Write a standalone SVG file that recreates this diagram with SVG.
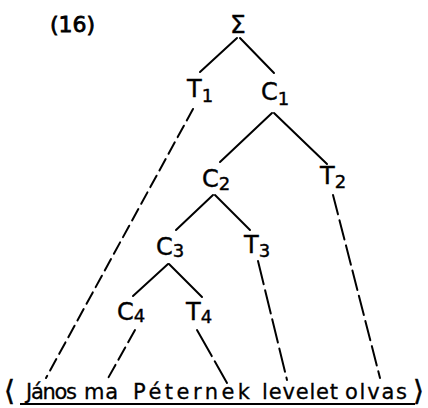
<svg xmlns="http://www.w3.org/2000/svg" width="428" height="408" viewBox="0 0 428 408">
<style>
text{font-family:"DejaVu Sans","Liberation Sans",sans-serif;fill:#000}
.lab{font-size:24px;stroke:#000;stroke-width:0.4}
.w{font-size:21px;stroke:#000;stroke-width:0.3}
.br{font-size:28px;stroke:#000;stroke-width:0.5}
.e{stroke:#000;stroke-width:2;fill:none;stroke-linecap:round}
</style>
<rect width="428" height="408" fill="#fff"/>
<text x="50" y="32" font-size="22" stroke="#000" stroke-width="0.8">(16)</text>
<g id="sigma"><text x="238" y="33" font-size="25" stroke="#000" stroke-width="0.4" text-anchor="middle">Σ</text></g>
<g id="T1"><text class="lab" x="187" y="97">T<tspan font-size="18" dy="5">1</tspan></text></g>
<g id="C1"><text class="lab" x="261" y="100">C<tspan font-size="18" dy="5">1</tspan></text></g>
<g id="C2"><text class="lab" x="202" y="187">C<tspan font-size="18" dy="3">2</tspan></text></g>
<g id="T2"><text class="lab" x="320" y="184">T<tspan font-size="18" dy="4">2</tspan></text></g>
<g id="C3"><text class="lab" x="156" y="255">C<tspan font-size="18" dy="2">3</tspan></text></g>
<g id="T3"><text class="lab" x="244" y="253">T<tspan font-size="18" dy="4">3</tspan></text></g>
<g id="C4"><text class="lab" x="117" y="320">C<tspan font-size="18" dy="2">4</tspan></text></g>
<g id="T4"><text class="lab" x="186" y="320">T<tspan font-size="18" dy="3">4</tspan></text></g>
<g id="sentence">
<text class="br" x="4" y="400">⟨</text>
<text class="w" x="26" y="399" textLength="51">János</text>
<text class="w" x="84" y="399" textLength="34">ma</text>
<text class="w" x="133" y="399" textLength="117">Péternek</text>
<text class="w" x="262" y="399" textLength="76">levelet</text>
<text class="w" x="345" y="399" textLength="62">olvas</text>
<text class="br" x="413" y="400">⟩</text>
<line x1="20" y1="404" x2="415" y2="404" stroke="#000" stroke-width="1.8"/>
</g>
<g id="connectors">
<line class="e" x1="237" y1="38" x2="200" y2="72"/>
<line class="e" x1="240" y1="38" x2="274" y2="73"/>
<line class="e" x1="272" y1="113" x2="220" y2="162"/>
<line class="e" x1="274" y1="113" x2="327" y2="164"/>
<line class="e" x1="213" y1="195" x2="176" y2="230"/>
<line class="e" x1="215" y1="195" x2="250" y2="230"/>
<line class="e" x1="168" y1="264" x2="133" y2="296"/>
<line class="e" x1="169" y1="264" x2="202" y2="297"/>
<line class="e" stroke-dasharray="13 6" x1="193" y1="109" x2="46" y2="378"/>
<line class="e" stroke-dasharray="20 6" x1="333" y1="195" x2="380" y2="378"/>
<line class="e" stroke-dasharray="24 6" x1="258" y1="261" x2="287" y2="380"/>
<line class="e" stroke-dasharray="14 6" x1="135" y1="330" x2="107" y2="380"/>
<line class="e" stroke-dasharray="30 6" x1="197" y1="330" x2="227" y2="383"/>
</g>
</svg>
